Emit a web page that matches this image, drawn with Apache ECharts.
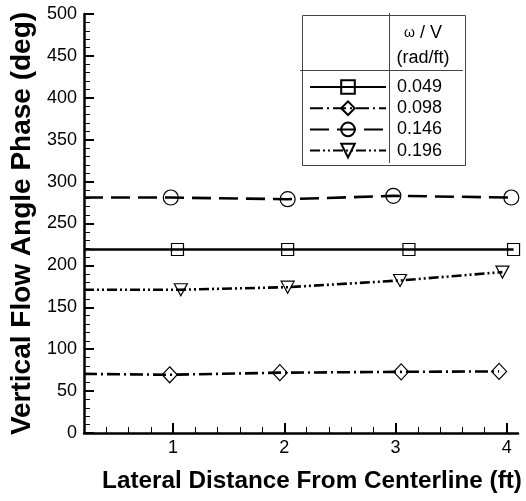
<!DOCTYPE html>
<html>
<head>
<meta charset="utf-8">
<script src="https://cdn.jsdelivr.net/npm/echarts@6/dist/echarts.min.js"></script>
<style>
html,body{margin:0;padding:0;background:#fff;}
#chart{width:526px;height:501px;}
</style>
</head>
<body>
<div id="chart"></div>
<script>
// ---- data ----
const legendValues = ['0.049', '0.098', '0.146', '0.196'];
const lineStartX = 0.2;            // lines begin at the left axis edge

const sqStartY = 219;
const sqX = [1.04, 2.03, 3.12, 4.06];
const sqY = [219, 219, 219, 219];

const diaStartY = 70.5;
const diaX = [0.97, 1.96, 3.05, 3.93];
const diaY = [69.5, 72, 73, 73.5];

const cirStartY = 281;
const cirX = [0.98, 2.03, 2.98, 4.04];
const cirY = [281, 279, 283, 281];

const triStartY = 171;
const triX = [1.07, 2.03, 3.04, 3.96];
const triY = [171, 174, 182, 192];

const xMajorTicks = [1, 2, 3, 4];
const xMinorTicks = [0.4, 0.6, 0.8, 1.2, 1.4, 1.6, 1.8, 2.2, 2.4, 2.6, 2.8, 3.2, 3.4, 3.6, 3.8];

// ---- build ----
function buildData(startY, xs, ys) {
  const d = [{ value: [lineStartX, startY], symbol: 'none' }];
  for (let i = 0; i < xs.length; i++) d.push([xs[i], ys[i]]);
  return d;
}

const FONT = '"Liberation Sans", Arial, Helvetica, sans-serif';
const markerStyle = { color: 'rgba(0,0,0,0)', borderColor: '#000', borderWidth: 1.2 };

function mkSeries(name, data, symbol, size, dash, rotate) {
  return {
    name: name,
    type: 'line',
    data: data,
    symbol: symbol,
    symbolSize: size,
    symbolRotate: rotate || 0,
    showAllSymbol: true,
    lineStyle: { color: '#000', width: 2.6, type: dash },
    itemStyle: markerStyle,
    emphasis: { disabled: true },
    animation: false,
    z: 3
  };
}

const chart = echarts.init(document.getElementById('chart'), null, { renderer: 'canvas' });

const option = {
  backgroundColor: '#fff',
  animation: false,
  textStyle: { fontFamily: FONT },
  grid: { left: 84, right: 8, top: 14, bottom: 68, containLabel: false },
  xAxis: [
    {
      type: 'value', min: 0.2, max: 4.1,
      position: 'bottom',
      name: 'Lateral Distance From Centerline (ft)',
      nameLocation: 'middle',
      nameGap: 36,
      nameTextStyle: { fontFamily: FONT, fontSize: 24.3, fontWeight: 'bold', color: '#000', padding: [0, 0, 0, 22] },
      axisLine: { show: true, lineStyle: { color: '#000', width: 2.5 } },
      axisTick: { show: true, inside: true, length: 10, lineStyle: { color: '#000', width: 2 }, customValues: xMajorTicks },
      axisLabel: { show: true, color: '#000', fontSize: 18, fontFamily: FONT, margin: 6, customValues: xMajorTicks },
      splitLine: { show: false }
    },
    {
      type: 'value', min: 0.2, max: 4.1,
      position: 'bottom',
      axisLine: { show: false },
      axisTick: { show: true, inside: true, length: 6, lineStyle: { color: '#000', width: 1 }, customValues: xMinorTicks },
      axisLabel: { show: false },
      splitLine: { show: false }
    }
  ],
  yAxis: {
    type: 'value', min: 0, max: 500, interval: 50,
    name: 'Vertical Flow Angle Phase (deg)',
    nameLocation: 'middle',
    nameGap: 44,
    nameTextStyle: { fontFamily: FONT, fontSize: 28, fontWeight: 'bold', color: '#000' },
    axisLine: { show: true, lineStyle: { color: '#000', width: 2.5 } },
    axisTick: { show: true, inside: true, length: 10, lineStyle: { color: '#000', width: 2 } },
    minorTick: { show: true, splitNumber: 5, length: 6, lineStyle: { color: '#000', width: 1 } },
    axisLabel: { color: '#000', fontSize: 18, fontFamily: FONT, margin: 7 },
    splitLine: { show: false }
  },
  legend: {
    orient: 'vertical',
    left: 309,
    top: 78,
    itemWidth: 76,
    itemHeight: 17,
    itemGap: 3.2,
    padding: 0,
    selectedMode: false,
    textStyle: { fontFamily: FONT, fontSize: 18, color: '#000', lineHeight: 17, padding: [0, 0, 0, 6] },
    data: legendValues
  },
  graphic: [
    { type: 'rect', left: 300, top: 13, shape: { width: 163, height: 150 }, style: { fill: 'none', stroke: '#444', lineWidth: 1 }, z: 10 },
    { type: 'line', shape: { x1: 389.5, y1: 13, x2: 389.5, y2: 163 }, style: { stroke: '#444', lineWidth: 1 }, z: 10 },
    { type: 'line', shape: { x1: 300, y1: 70.5, x2: 463, y2: 70.5 }, style: { stroke: '#444', lineWidth: 1 }, z: 10 },
    {
      type: 'text', x: 423, y: 33, z: 10,
      style: {
        text: '{w|ω} / V', align: 'center', verticalAlign: 'middle', fill: '#000',
        font: '18px ' + FONT,
        rich: { w: { fontSize: 14, fontFamily: FONT } }
      }
    },
    {
      type: 'text', x: 423, y: 58, z: 10,
      style: { text: '(rad/ft)', align: 'center', verticalAlign: 'middle', fill: '#000', font: '18px ' + FONT }
    }
  ],
  series: [
    mkSeries(legendValues[0], buildData(sqStartY, sqX, sqY), 'rect', 12, 'solid'),
    mkSeries(legendValues[1], buildData(diaStartY, diaX, diaY), 'diamond', [15, 16], [13, 4, 2, 4]),
    mkSeries(legendValues[2], buildData(cirStartY, cirX, cirY), 'circle', 15, [19, 8]),
    mkSeries(legendValues[3], buildData(triStartY, triX, triY), 'triangle', [13, 12], [10, 3, 2, 3, 2, 3], 180)
  ]
};

chart.setOption(option);
</script>
</body>
</html>
